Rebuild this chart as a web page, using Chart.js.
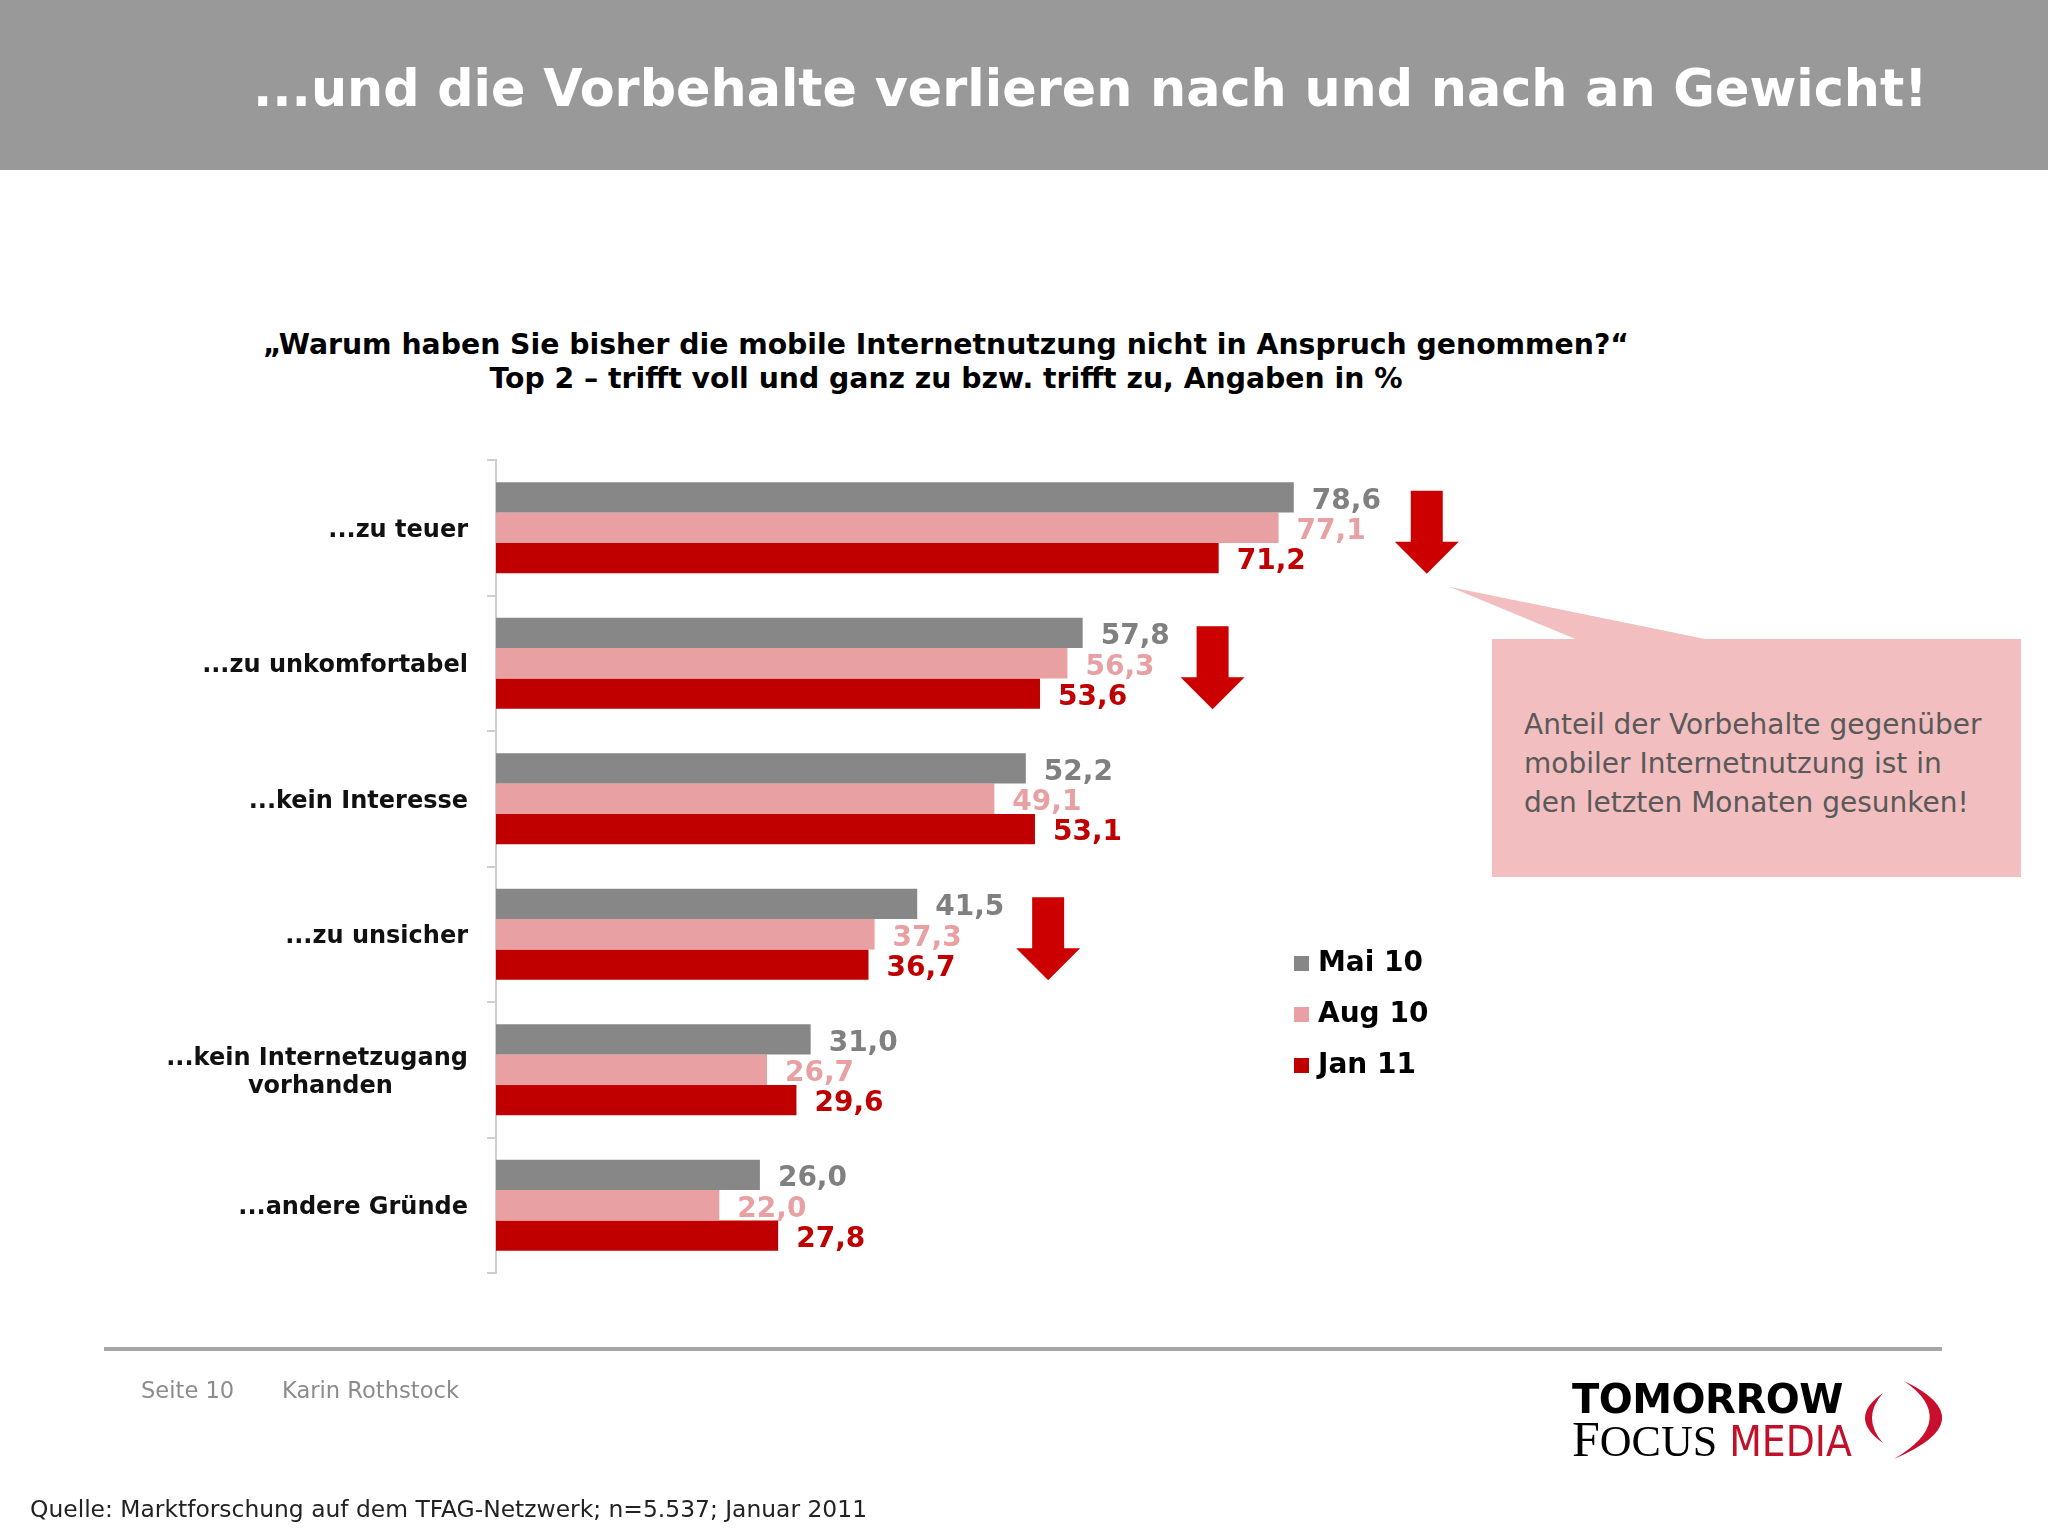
<!DOCTYPE html>
<html>
<head>
<meta charset="utf-8">
<script src="https://cdn.jsdelivr.net/npm/chart.js@4.4.1/dist/chart.umd.min.js"></script>
<style>
  body { margin: 0; width: 2048px; height: 1536px; position: relative; overflow: hidden; background: #fff; font-family: "DejaVu Sans", Verdana, sans-serif; }
  .abs { position: absolute; white-space: nowrap; }
  #header { left: 0; top: 0; width: 2048px; height: 170px; background: #999; }
  #title { left: 253px; top: 64px; font-size: 50.8px; line-height: 50px; font-weight: bold; color: #fff; }
  #subtitle { left: 0; top: 328px; width: 1892px; text-align: center; font-size: 28.3px; line-height: 34px; font-weight: bold; color: #000; }
  #note { left: 1524px; top: 705px; font-size: 28px; line-height: 39px; color: #595959; }
  #rule { left: 104px; top: 1347px; width: 1838px; height: 4px; background: #a6a6a6; }
  .foot { top: 1379px; font-size: 22.6px; line-height: 22px; color: #8c8c8c; }
  #source { left: 30px; top: 1498px; font-size: 23.4px; line-height: 23px; color: #222; }
  #tomorrow { left: 1572px; top: 1379px; font-size: 40px; line-height: 40px; font-weight: bold; letter-spacing: -0.5px; color: #000; }
  #focus { left: 1572px; top: 1414px; font-family: "Liberation Serif", serif; font-size: 44px; line-height: 50px; color: #000; letter-spacing: 0; }
  #focus .big { font-size: 50px; }
  #focus .media { font-family: "Liberation Sans Narrow", "DejaVu Sans Condensed", sans-serif; font-size: 42px; color: #c0102a; margin-left: 12px; }
  canvas { position: absolute; left: 0; top: 0; }
</style>
</head>
<body>
<div id="header" class="abs"></div>
<div id="title" class="abs">...und die Vorbehalte verlieren nach und nach an Gewicht!</div>
<div id="subtitle" class="abs">„Warum haben Sie bisher die mobile Internetnutzung nicht in Anspruch genommen?“<br>Top 2 – trifft voll und ganz zu bzw. trifft zu, Angaben in %</div>

<svg class="abs" style="left:0;top:0" width="2048" height="1536">
  <polygon points="1450,587 1710,640 1578,640" fill="#f2bec0"/>
  <rect x="1492" y="639" width="529" height="238" fill="#f2bec0"/>
  <g transform="translate(1860,1378)" fill="#c8102e">
    <path d="M23 15 Q-13 40 23 65 Q1 40 23 15 Z"/>
    <path d="M44 3 Q125 42 34 81 Q100 42 44 3 Z"/>
  </g>
</svg>

<div id="note" class="abs">Anteil der Vorbehalte gegenüber<br>mobiler Internetnutzung ist in<br>den letzten Monaten gesunken!</div>

<canvas id="chart" width="2048" height="1536"></canvas>

<div id="rule" class="abs"></div>
<div class="abs foot" style="left:141px">Seite 10</div>
<div class="abs foot" style="left:282px">Karin Rothstock</div>
<div id="source" class="abs">Quelle: Marktforschung auf dem TFAG-Netzwerk; n=5.537; Januar 2011</div>
<div id="tomorrow" class="abs">TOMORROW</div>
<div id="focus" class="abs"><span class="big">F</span>OCUS<span class="media">MEDIA</span></div>

<script>
// reasons, top to bottom
const categories = [
    '...zu teuer',
    '...zu unkomfortabel',
    '...kein Interesse',
    '...zu unsicher',
    ['...kein Internetzugang', 'vorhanden'],
    '...andere Gründe'
];
const seriesNames = ['Mai 10', 'Aug 10', 'Jan 11'];
const mai10 = [78.6, 57.8, 52.2, 41.5, 31.0, 26.0];
const aug10 = [77.1, 56.3, 49.1, 37.3, 26.7, 22.0];
const jan11 = [71.2, 53.6, 53.1, 36.7, 29.6, 27.8];

const barColors = ['#878787', '#e8a0a2', '#c00000'];
const labelColors = ['#808080', '#e8a0a2', '#c00000'];

// red "falling" arrows: category row and where they sit on the value axis
const arrowMarks = [
    { row: 0, at: 91.7 },
    { row: 1, at: 70.6 },
    { row: 3, at: 54.4 }
];

const FONT = '"DejaVu Sans", Verdana, sans-serif';
const fmt = v => v.toFixed(1).replace('.', ',');

// centre the lines of a multi-line tick label (they are drawn right-aligned)
const measureCtx = document.createElement('canvas').getContext('2d');
function centreLines(lines) {
    measureCtx.font = 'bold 24px ' + FONT;
    const widths = lines.map(l => measureCtx.measureText(l).width);
    const maxW = Math.max(...widths);
    const spaceW = measureCtx.measureText(' ').width;
    return lines.map((l, i) => l + ' '.repeat(Math.round((maxW - widths[i]) / 2 / spaceW)));
}

const valueLabels = {
    id: 'valueLabels',
    afterDatasetsDraw(chart) {
        const ctx = chart.ctx;
        ctx.save();
        ctx.font = 'bold 28px ' + FONT;
        ctx.textAlign = 'left';
        ctx.textBaseline = 'middle';
        chart.data.datasets.forEach((ds, i) => {
            chart.getDatasetMeta(i).data.forEach((bar, j) => {
                ctx.fillStyle = labelColors[i];
                ctx.fillText(fmt(ds.data[j]), bar.x + 18, bar.y + 4);
            });
        });
        ctx.restore();
    }
};

const arrows = {
    id: 'arrows',
    afterDraw(chart) {
        const ctx = chart.ctx;
        const x = chart.scales.x, y = chart.scales.y;
        ctx.save();
        ctx.fillStyle = '#cc0000';
        arrowMarks.forEach(m => {
            const cx = x.getPixelForValue(m.at);
            const cy = y.getPixelForValue(m.row);
            ctx.beginPath();
            ctx.moveTo(cx - 16, cy - 37);
            ctx.lineTo(cx + 16, cy - 37);
            ctx.lineTo(cx + 16, cy + 14);
            ctx.lineTo(cx + 32, cy + 14);
            ctx.lineTo(cx, cy + 46);
            ctx.lineTo(cx - 32, cy + 14);
            ctx.lineTo(cx - 16, cy + 14);
            ctx.closePath();
            ctx.fill();
        });
        ctx.restore();
    }
};

const sideLegend = {
    id: 'sideLegend',
    afterDraw(chart) {
        const ctx = chart.ctx;
        ctx.save();
        ctx.font = 'bold 28px ' + FONT;
        ctx.textBaseline = 'middle';
        chart.data.datasets.forEach((ds, i) => {
            const cy = 963 + i * 51;
            ctx.fillStyle = ds.backgroundColor;
            ctx.fillRect(1294, cy - 7, 15, 15);
            ctx.fillStyle = '#000';
            ctx.fillText(ds.label, 1318, cy + 1);
        });
        ctx.restore();
    }
};

new Chart(document.getElementById('chart'), {
    type: 'bar',
    data: {
        labels: categories,
        datasets: [mai10, aug10, jan11].map((d, i) => ({
            label: seriesNames[i],
            data: d,
            backgroundColor: barColors[i],
            borderWidth: 0,
            barPercentage: 1,
            categoryPercentage: 0.672
        }))
    },
    options: {
        indexAxis: 'y',
        responsive: false,
        animation: false,
        devicePixelRatio: 1,
        layout: { padding: { top: 460, bottom: 263, right: 537, left: 0 } },
        plugins: {
            legend: { display: false },
            tooltip: { enabled: false }
        },
        scales: {
            x: { min: 0, max: 100, display: false },
            y: {
                afterFit(axis) { axis.width = 496; },
                grid: { drawOnChartArea: false, drawTicks: true, tickLength: 9, color: '#cfcfcf', lineWidth: 2 },
                border: { color: '#cfcfcf', width: 2 },
                ticks: {
                    autoSkip: false,
                    padding: 19,
                    labelOffset: 3,
                    color: '#111',
                    font: { family: FONT, size: 24, weight: 'bold', lineHeight: 1.17 },
                    callback(value) {
                        const lbl = this.getLabelForValue(value);
                        return Array.isArray(lbl) ? centreLines(lbl) : lbl;
                    }
                }
            }
        }
    },
    plugins: [valueLabels, arrows, sideLegend]
});
</script>
</body>
</html>
